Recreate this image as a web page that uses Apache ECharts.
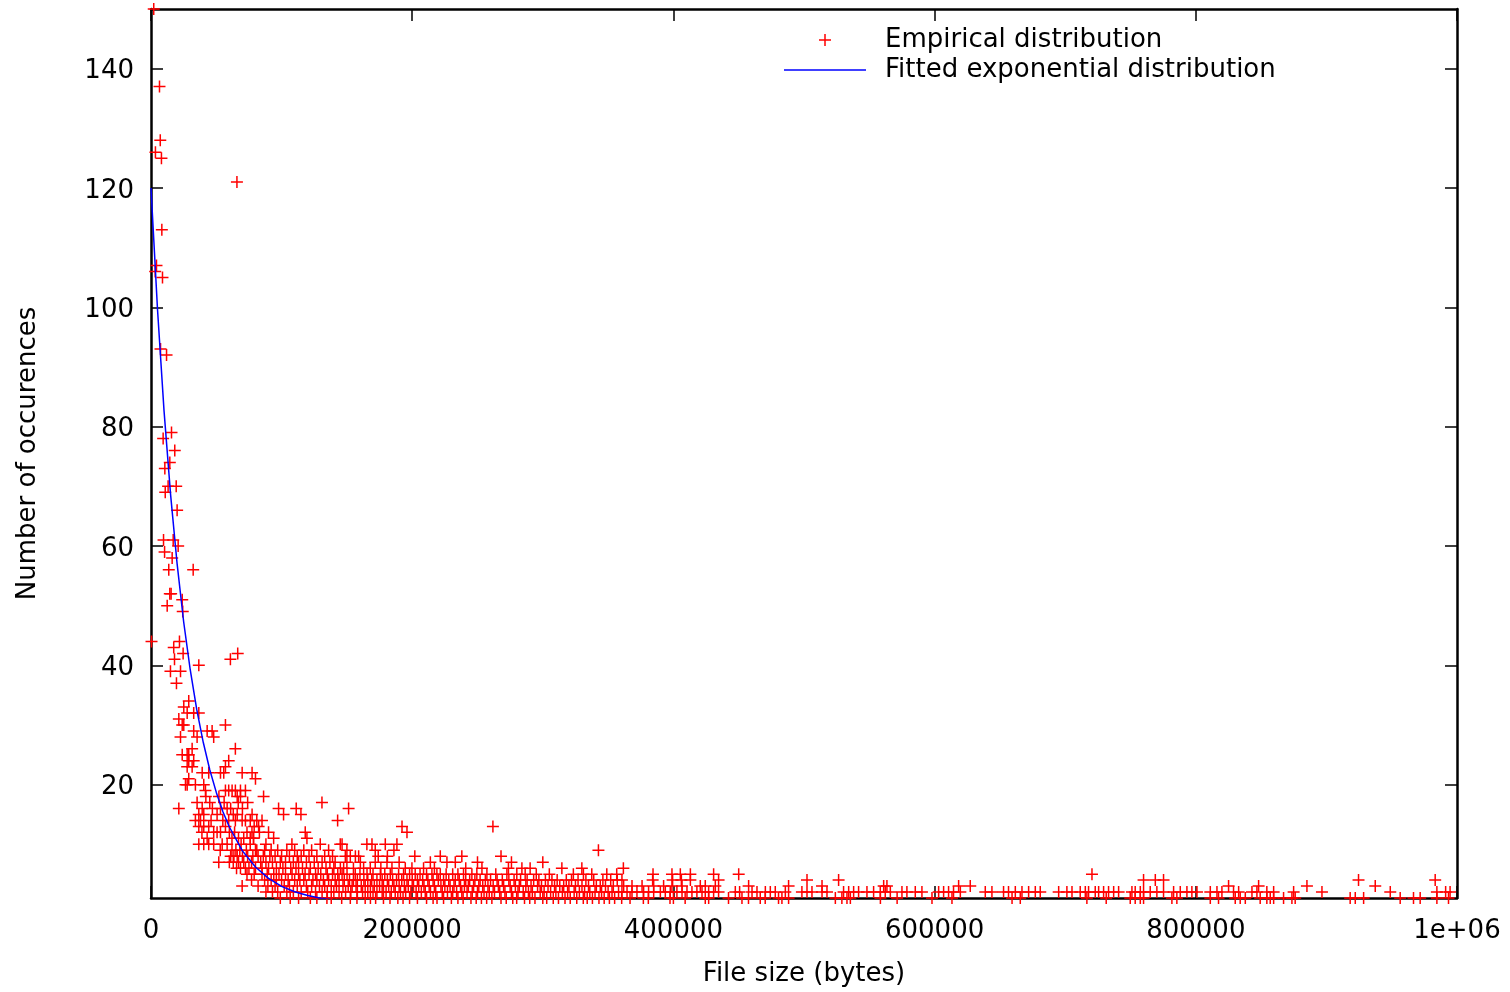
<!DOCTYPE html>
<html>
<head>
<meta charset="utf-8">
<script src="https://cdn.jsdelivr.net/npm/echarts@6/dist/echarts.min.js"></script>
<style>
html,body{margin:0;padding:0;background:#fff;}
#chart{width:1510px;height:992px;}
</style>
</head>
<body>
<div id="chart"></div>
<script>
// ---- tick labels ----
const xTicks = [0, 200000, 400000, 600000, 800000, 1000000];
const xTickLabels = ['0', '200000', '400000', '600000', '800000', '1e+06'];
const yTicks = [20, 40, 60, 80, 100, 120, 140];

// ---- empirical distribution: file size in KB (x1000 bytes), count ----
const highPoints = [
  [2.1,150],[6.5,137],[7.1,128],[3.4,126],[8.0,125],[65.8,121],[8.3,113],[4.2,107],[3.2,106],[8.8,105],
  [7.3,93],[11.9,92],[15.7,79],[9.3,78],[18.2,76],[14.4,74],[10.6,73],[13.1,70],[19.3,70],[10.9,69],
  [20.0,66],[9.6,61],[17.0,61],[20.8,60],[10.4,59],[16.2,58],[13.6,56],[32.3,56],[14.4,52],[15.4,52],
  [12.4,50],[23.9,51],[24.3,49],[0.4,44],[21.8,44],[17.4,43],[24.6,42],[60.8,41],[66.4,42],[18.0,41],
  [36.6,40],[14.9,39],[22.6,39],[19.5,37],
  [28.9,34],[25.1,33],[32.7,32],[27.7,32],[36.6,32],[21.3,31],[25.1,30],[23.9,30],[57.0,30],[32.7,29],
  [43.0,29],[46.8,29],[35.3,28],[48.0,28],[22.6,28],[64.6,26],[31.5,26],[28.9,25],[27.7,25],[23.9,25],
  [32.7,24],[59.5,24],[57.0,23],[53.2,22],[55.7,22],[27.7,23],[28.9,24],[31.5,23],[39.2,22],[44.2,22],
  [69.8,22],[77.4,22],[80.0,21],[28.9,21],[27.7,20],[26.4,20],[34.0,20],[40.4,20],[41.7,19],[57.0,19],
  [59.5,19],[62.1,19],[64.6,19],[68.5,19],[72.3,19],[66.0,18],[68.5,18],[66.8,17],[86.2,18],[21.3,16],
  [35.3,17],[39.2,16],[36.6,15],[40.4,15],[53.2,16],[58.3,16],[50.6,15],[77.4,15],[72.3,14],[69.8,14],
  [64.6,14],[59.5,14],[37.9,14],[34.0,14],[36.6,13],[40.4,13],[44.2,13],[48.0,12],[53.2,12],[50.6,12],
  [81.0,14],[36.6,10],[40.4,10],[44.2,10],[48.0,10],[54.5,10],[58.3,10],[71.0,11],[73.5,12],[76.0,10],
  [78.5,11],[42.0,18],[45.0,17],[47.0,16],[52.0,18],[56.0,17],[61.0,16],[63.0,15],[66.0,15],[70.0,16],
  [74.0,17],[76.0,14],[79.0,13],[83.0,12],[85.0,14],[88.0,10],[60.0,12],[62.0,11],[64.0,12],[67.0,11],
  [69.0,10],[55.0,14],[57.0,13],[46.0,14],[43.0,11],[39.0,12],
  [97.7,16],[101.5,15],[111.2,16],[114.8,15],[130.9,17],[151.3,16],[142.9,14],[118.1,12],[82.4,13],[77.3,12],
  [78.5,11],[90.0,12],[93.9,11],[76.0,11],[107.9,10],[119.4,11],[129.6,10],[144.9,10],[165.3,10],
  [192.2,13],[196.0,12],[261.8,13],[146.3,10],[169.2,10],[179.4,10],[188.3,10],[69.8,3]
];
const row9 = [53,62,65,68,73,80,81,87,92,97,104,110,117,123,136,150,171.7,186,342.6];
const row8 = [61,63.5,66,70,74,78,82,86,91,95,100,106,112,115,121,127,133,139,148.8,152.6,156.5,159,174,181,202,221.5,238,268];
const row7 = [51.9,60,63,67,71,77,84,88,93,99,103,109,113,119,125,131,137,141,150,160.3,171.7,180.7,190,213.9,226.6,233,250,276,300];
const row6 = [65.5,68.5,72.3,75,80,85,90,96,101,107,111,116,122,128,134,140,145,147.5,155,162.8,167.9,176,184.5,194.7,199.8,
  208.7,217,241,253.4,273.7,284,290.3,314.6,329.9,361.7];
const row5 = [73.5,79,85,89,94,98,103,108,113,118,121,126,130,135,139,143,146.3,150.1,156.4,160,165.4,170,175.6,179,183.2,
  189.6,193.4,198,202.3,206,211,215.1,218.9,221.5,226,231,235,239.3,245.7,249.5,257.2,264,272.5,280.1,286.5,295,305,
  323.4,331.1,337.5,349,356.6,384.4,398.9,405.3,413,430.8,450,720.5];
const row4 = [77,87,92,96,100,105,110,114,117,124,127,132,136,141,144,148,152,155,158,163,166,169,173,177,181,185,188,192,
  196,200,204,208,212,216,220,224,228,233,236,241,244,248,252,256,260,265,269,274,278,283,288,293,297,302,307,311,318,
  322,327,333,339,346,352,357,360.6,384.1,399.4,406.1,413,434.6,502.3,526.5,760,769,775.3,924.6,983.3];
const row3 = [82,89.5,95,102,106,112,119,123,129,133,138,142,147,151,154,157,161,164,168,171,175,178,182,186,190,194,197,
  201,205,209,213,217,222,225,229,232,237,240,243,247,251,254,258,262,266,270,275,279,282,287,291,296,299,304,309,313,
  316,320,325,330,335,341,344,348,354,361.9,368.3,376,384.9,392.5,398.9,406.6,420.6,424.4,432.1,457.6,488.2,513.8,561,
  563.5,618.4,627.3,825.1,848.1,885.1,937.4];
const row2 = [88,93,97,104,109,115,120,126,131,135,140,144,149,153,158,162,166,170,173,177,180,184,187,191,195,199,203,
  207,210,214,218,223,227,231,234,238,242,246,250,255,259,263,267,271,276,281,285,289,292,298,301,306,310,315,319,324,
  328,332,336,340,345,350,353,358,360.6,364.5,368.3,372.1,377.2,381,384.9,390,393.8,397.6,402.7,406.6,410.4,414.2,418,
  421.9,427,430.8,434.6,447.4,450.7,460.2,464,470.4,474.2,478,485.7,498.4,502.3,506.1,513.8,517.6,530.3,534.2,538,541.8,
  548.2,553.3,558.4,562.2,566.1,575,578.8,585.2,590.3,603.1,606.9,610.7,614.5,619.7,638.8,643.9,652.8,656.6,661.8,
  666.9,672,677.1,680.9,695,701.3,705.2,711.5,715.4,717.9,723,725.6,729.4,733.2,737.1,740.9,751.1,753.6,757.5,760,
  765.1,770.2,775.3,783,788.1,793.2,797,800.9,811.1,816.2,820,828.9,832.8,843,846.8,854.4,859.6,874.9,896.6,948.9,
  984.6,991.3,994.7];
const row1 = [99,106.6,113,122,127,134.7,138,146,152.6,157.7,164,168,172,178,183,189,193,198,204,211,216,219,224,230,235,
  239,245,249,253,257,261,268,272,277,280,286,290,294,300,303,308,312,317,321,326,331,334,338,343,347,351,355,
  360.4,366.8,377,380.8,397.4,400,409,424.4,427,442.2,452.5,457.5,466.5,470.3,480.5,483.1,488.2,524,529,532.9,535.5,
  558.5,571.3,598,613.3,659.3,665.6,716.6,731.4,749.8,753.6,757.5,760,781.7,785.5,811.1,817.4,830.2,834,837.9,849.3,
  854.4,857,859.6,867.2,873.6,876.1,918.2,922.1,928.5,956.5,966.7,971.8,984.6,993.5];

// ---- fitted exponential curve (KB, count) ----
const fitSizesKB = [0,5,10,15,20,25,30,35,40,45,50,55,60,70,80,90,100,110,120,130,140];
const fitCounts  = [120,99.6,82.6,68.6,57,47.3,39.3,32.6,27.1,22.5,18.7,15.5,12.9,8.9,6.2,4.3,2.95,2.04,1.41,0.97,0.67];

// ---- build series data (KB -> bytes) ----
const rows = [row1,row2,row3,row4,row5,row6,row7,row8,row9];
let empirical = highPoints.map(p => [p[0]*1000, p[1]]);
rows.forEach((r, i) => { r.forEach(k => empirical.push([k*1000, i+1])); });
const fitted = fitSizesKB.map((k, i) => [k*1000, fitCounts[i]]);

const FONT = 'DejaVu Sans';
const plusPath = 'path://M5.25,0h1.5v5.25h5.25v1.5h-5.25v5.25h-1.5v-5.25h-5.25v-1.5h5.25z';
const lineIcon = 'path://M0,0h82v1.5h-82z';

const axisLineStyle = {color:'#000', width:2.5};
const tickStyle = {color:'#000', width:1.5};

const chart = echarts.init(document.getElementById('chart'), null, {renderer:'canvas'});
chart.setOption({
  animation:false,
  backgroundColor:'#fff',
  grid:{left:151, right:53, top:9, bottom:94, containLabel:false},
  legend:{
    orient:'vertical', left:784, top:25, padding:0, itemGap:0,
    itemWidth:82, itemHeight:12, selectedMode:false, symbolKeepAspect:true,
    textStyle:{fontFamily:FONT, fontSize:26, color:'#000', lineHeight:30, padding:[0,0,0,14]},
    data:[
      {name:'Empirical distribution'},
      {name:'Fitted exponential distribution', icon:lineIcon, itemStyle:{color:'#0000ff'}}
    ]
  },
  xAxis:[{
    type:'value', min:0, max:1000000, interval:200000,
    name:'File size (bytes)', nameLocation:'middle', nameGap:63,
    nameTextStyle:{fontFamily:FONT, fontSize:26, color:'#000'},
    axisLine:{show:true, onZero:false, lineStyle:axisLineStyle},
    axisTick:{show:true, inside:true, length:12, lineStyle:tickStyle},
    axisLabel:{fontFamily:FONT, fontSize:26, color:'#000', margin:20,
      formatter:v => { const i = xTicks.indexOf(v); return i >= 0 ? xTickLabels[i] : ''; }},
    splitLine:{show:false}
  },{
    type:'value', min:0, max:1000000, interval:200000, position:'top',
    axisLine:{show:true, onZero:false, lineStyle:axisLineStyle},
    axisTick:{show:true, inside:true, length:12, lineStyle:tickStyle},
    axisLabel:{show:false}, splitLine:{show:false}
  }],
  yAxis:[{
    type:'value', min:1, max:150,
    name:'Number of occurences', nameLocation:'middle', nameGap:110, nameRotate:90,
    nameTextStyle:{fontFamily:FONT, fontSize:26, color:'#000'},
    axisLine:{show:true, onZero:false, lineStyle:axisLineStyle},
    axisTick:{show:true, inside:true, length:12, lineStyle:tickStyle, customValues:yTicks},
    axisLabel:{fontFamily:FONT, fontSize:26, color:'#000', margin:17, customValues:yTicks,
      formatter:v => '{t|' + v + '}',
      rich:{t:{fontFamily:FONT, fontSize:26, color:'#000', padding:[6,0,0,0]}}},
    splitLine:{show:false}
  },{
    type:'value', min:1, max:150, position:'right',
    axisLine:{show:true, onZero:false, lineStyle:axisLineStyle},
    axisTick:{show:true, inside:true, length:12, lineStyle:tickStyle, customValues:yTicks},
    axisLabel:{show:false}, splitLine:{show:false}
  }],
  series:[{
    name:'Empirical distribution', type:'scatter', xAxisIndex:0, yAxisIndex:0,
    symbol:plusPath, symbolSize:12, clip:false, large:false,
    itemStyle:{color:'#ff0000', opacity:1},
    emphasis:{disabled:true},
    data:empirical, z:2
  },{
    name:'Fitted exponential distribution', type:'line', xAxisIndex:0, yAxisIndex:0,
    symbol:'none', smooth:false, clip:true,
    lineStyle:{color:'#0000ff', width:1.5},
    itemStyle:{color:'#0000ff'},
    emphasis:{disabled:true},
    data:fitted, z:3
  }]
});
</script>
</body>
</html>
